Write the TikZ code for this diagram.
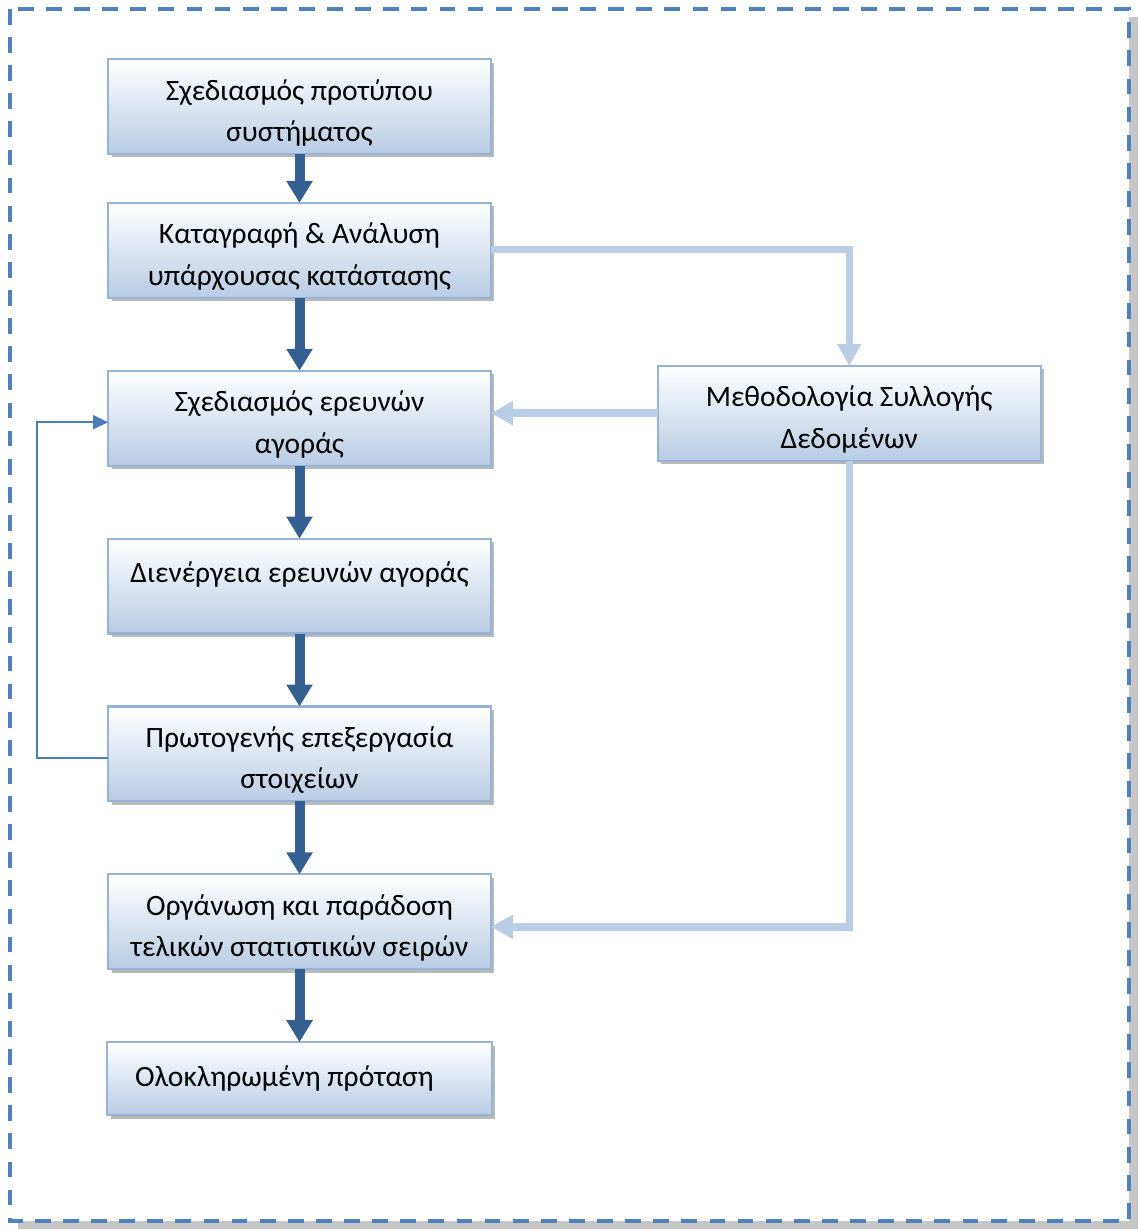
\documentclass[tikz,border=0pt]{standalone}
\usepackage{fontspec}
\setmainfont{Carlito}
\usepackage{tikz}
\usetikzlibrary{positioning,shapes,arrows.meta,calc,shadows}
\definecolor{boxline}{RGB}{149,179,215}
\definecolor{boxfill}{RGB}{184,204,228}
\definecolor{flowdark}{RGB}{54,95,145}
\definecolor{flowlight}{RGB}{185,205,229}
\definecolor{loopblue}{RGB}{74,126,187}
\definecolor{frameblue}{RGB}{79,129,189}

\tikzset{
  stage/.style={rectangle, draw=boxline, line width=1.2pt, top color=white, bottom color=boxfill,
    text width=7.7cm-1.2pt, minimum height=1.94cm-1.2pt, align=flush center, inner sep=0pt, outer sep=0pt,
    font=\fontsize{16.8}{23.5}\selectfont, execute at begin node={\rule{0pt}{19pt}},
    drop shadow={shadow xshift=0.07cm, shadow yshift=-0.07cm, fill=gray!55, opacity=1}},
  darkflow/.style={draw=flowdark, line width=0.2cm, -{Triangle[width=0.5cm,length=0.44cm]}},
  lightflow/.style={draw=flowlight, line width=0.15cm, -{Triangle[width=0.46cm,length=0.44cm]}},
  loopflow/.style={draw=loopblue, line width=1.1pt, -{Triangle[width=0.28cm,length=0.3cm]}}
}

\begin{document}
\begin{tikzpicture}[x=0.02cm, y=-0.02cm]
    \useasboundingbox (0,0) rectangle (1138,1229);
    % outer frame
    \fill[gray!45] (18,17) rectangle (1138,1229);
    \fill[white] (10,9) rectangle (1129,1221);
    \draw[frameblue, line width=1.9pt, dash pattern=on 9pt off 7pt] (10,9) rectangle (1129,1221);

    \node[stage] (design) at (299.5,106.5) {Σχεδιασμός προτύπου\\συστήματος};
    \node[stage, below=0.98cm of design] (record) {Καταγραφή \& Ανάλυση\\υπάρχουσας κατάστασης};
    \node[stage, below=1.46cm of record] (survey) {Σχεδιασμός ερευνών\\αγοράς};
    \node[stage, below=1.46cm of survey] (conduct) {Διενέργεια ερευνών αγοράς\\~};
    \node[stage, below=1.46cm of conduct] (process) {Πρωτογενής επεξεργασία\\στοιχείων};
    \node[stage, below=1.46cm of process] (deliver) {Οργάνωση και παράδοση\\τελικών στατιστικών σειρών};
    \node[stage, below=1.46cm of deliver, minimum height=1.5cm-1.2pt, align=flush left, text width=6.58cm, inner xsep=0.56cm,
          execute at begin node={}, execute at end node={\rule[-10pt]{0pt}{0pt}}] (final) {Ολοκληρωμένη πρόταση};

    \node[stage, right=3.34cm of survey, yshift=0.1cm] (method) {Μεθοδολογία Συλλογής\\Δεδομένων};

    % main flow
    \draw[darkflow] (design) -- (record);
    \draw[darkflow] (record) -- (survey);
    \draw[darkflow] (survey) -- (conduct);
    \draw[darkflow] (conduct) -- (process);
    \draw[darkflow] (process) -- (deliver);
    \draw[darkflow] (deliver) -- (final);

    % methodology links
    \draw[lightflow] ([yshift=0.02cm]record.east) -| (method.north);
    \draw[lightflow] (method.west) -- (method.west -| survey.east);
    \draw[lightflow] (method.south) |- ([yshift=-0.1cm]deliver.east);

    % feedback loop
    \draw[loopflow] ([yshift=-0.08cm]process.west) -- ++(-71,0) |- ([yshift=-0.08cm]survey.west);
\end{tikzpicture}
\end{document}
